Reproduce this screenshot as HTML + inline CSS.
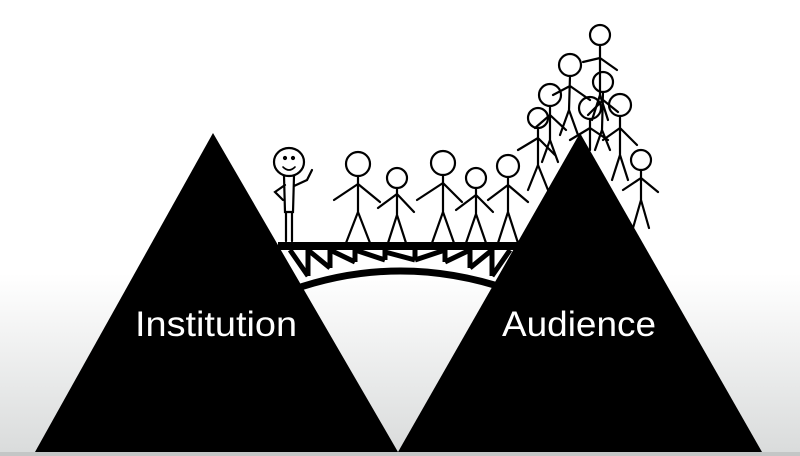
<!DOCTYPE html>
<html><head><style>
html,body{margin:0;padding:0;}
body{width:800px;height:456px;overflow:hidden;background:linear-gradient(#fff 0%,#fff 60%,#eceded 80%,#d9dbdb 100%);}
svg{display:block}
text{font-family:"Liberation Sans",sans-serif;fill:#fff;}
</style></head><body>
<svg width="800" height="456" viewBox="0 0 800 456">
<rect x="0" y="452" width="800" height="4" fill="#c4c6c6"/>
<g stroke="#000" stroke-width="2.2" fill="none" stroke-linecap="round">
<circle cx="600" cy="35" r="10"/><path d="M600 45 L600 95 M600 58 L583 62 M600 58 L617 70 M600 95 L592 120 M600 95 L608 120"/>
<circle cx="570" cy="65" r="11"/><path d="M570 76 L569 110 M570 86 L553 95 M570 86 L590 100 M569 110 L560 135 M569 110 L578 135"/>
<circle cx="603" cy="82" r="10"/><path d="M603 92 L602 130 M603 100 L588 115 M603 100 L618 112 M602 130 L595 150 M602 130 L610 150"/>
<circle cx="550" cy="95" r="11"/><path d="M550 106 L550 140 M550 115 L535 128 M550 115 L566 130 M550 140 L542 162 M550 140 L558 162"/>
<circle cx="590" cy="108" r="11"/><path d="M590 119 L590 150 M590 128 L570 140 M590 128 L608 140"/>
<circle cx="538" cy="118" r="10"/><path d="M538 128 L538 165 M538 138 L518 150 M538 138 L555 155 M538 165 L528 190 M538 165 L548 190"/>
<circle cx="620" cy="105" r="11"/><path d="M620 116 L620 155 M620 128 L603 140 M620 128 L637 145 M620 155 L612 180 M620 155 L628 180"/>
<circle cx="641" cy="160" r="10"/><path d="M641 170 L641 200 M641 178 L623 190 M641 178 L658 192 M641 200 L633 228 M641 200 L649 228"/>
<ellipse cx="289" cy="162" rx="15" ry="14"/>
<path d="M283 167 Q289 173 295 167" stroke-width="1.6"/>
<path d="M284 176 L285 212 L293 212 L294 176 M286 212 L286 241 M292 212 L292 241 M285 185 L275 192 L283 200 M294 186 L307 180 L312 170"/>
<circle cx="285" cy="158" r="1" /><circle cx="293" cy="158" r="1"/>
<circle cx="358" cy="164" r="12"/><path d="M358 176 L358 212 M358 184 L334 200 M358 184 L380 202 M358 212 L346 243 M358 212 L370 243"/>
<circle cx="397" cy="178" r="10"/><path d="M397 188 L397 215 M397 194 L378 208 M397 194 L414 212 M397 215 L388 243 M397 215 L406 243"/>
<circle cx="443" cy="163" r="12"/><path d="M443 175 L443 212 M443 183 L417 200 M443 183 L462 202 M443 212 L432 243 M443 212 L454 243"/>
<circle cx="476" cy="178" r="10"/><path d="M476 188 L476 214 M476 195 L456 210 M476 195 L493 212 M476 214 L466 243 M476 214 L486 243"/>
<circle cx="508" cy="166" r="11"/><path d="M508 177 L508 212 M508 185 L488 200 M508 185 L528 202 M508 212 L498 243 M508 212 L518 243"/>
</g>
<g fill="#000" stroke="#000">
<rect x="278" y="242" width="240" height="8" stroke="none"/>
<path d="M292 290 Q400 252 510 290" fill="none" stroke-width="7"/>
<g stroke-width="5" fill="none">
<path d="M308 250 L308 276 M330 250 L330 268 M355 250 L355 262 M385 250 L385 260 M415 250 L415 260 M445 250 L445 262 M470 250 L470 268 M492 250 L492 276"/>
<path d="M290 250 L308 276 M308 250 L330 268 M330 250 L355 262 M355 250 L385 260 M385 252 L415 260 M445 250 L415 260 M470 250 L445 262 M492 250 L470 268 M510 250 L492 276"/>
</g>
</g>
<polygon points="213,133 35,452 398,452" fill="#000"/>
<polygon points="580,133 398,452 762,452" fill="#000"/>
<text x="135" y="336" font-size="35" textLength="162" lengthAdjust="spacingAndGlyphs">Institution</text>
<text x="502" y="336" font-size="35" textLength="154" lengthAdjust="spacingAndGlyphs">Audience</text>
</svg>
</body></html>
